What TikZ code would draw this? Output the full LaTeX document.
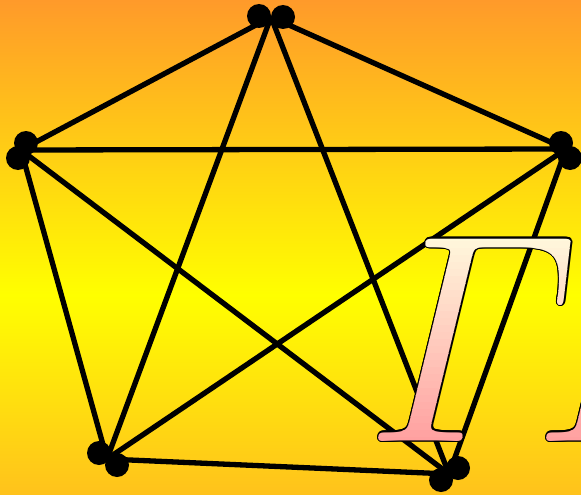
\documentclass[tikz,border=0pt]{standalone}
\usepackage{graphicx}
\usetikzlibrary{positioning}
\definecolor{SkyOrange}{HTML}{FF9A2A}
\definecolor{SkyYellow}{HTML}{FFFF00}
\definecolor{SkyLow}{HTML}{FFC21C}
\definecolor{GlyphTop}{HTML}{FFF8DC}
\definecolor{GlyphBottom}{HTML}{FFA0A0}
\newcommand{\bigGamma}{\scalebox{11.6}[11.94]{\char0}}

\begin{document}
\begin{tikzpicture}[x=1pt,y=-1pt,
  vertexdot/.style={circle,fill=black,inner sep=0pt,minimum size=24pt},
  graphedge/.style={draw=black,line width=5.3pt},
  bigglyph/.style={inner sep=0pt,anchor=base west,font=\fontsize{24.88}{25}\usefont{OML}{cmm}{m}{it}}
]
\useasboundingbox (0,0) rectangle (581,495);
% background
\shade[top color=SkyOrange,bottom color=SkyYellow] (0,0) rectangle (581,295);
\shade[top color=SkyYellow,bottom color=SkyLow] (0,294.5) rectangle (581,495);

% the five vertices
\coordinate (vt) at (271,17);
\coordinate (vl) at (21,150);
\coordinate (vr) at (566,149);
\coordinate (vbl) at (107,459);
\coordinate (vbr) at (449,474);

\foreach \a/\b in {vt/vl,vt/vr,vl/vr,vl/vbl,vr/vbr,vbl/vbr,vt/vbl,vt/vbr,vl/vbr,vr/vbl}
  \draw[graphedge] (\a) -- (\b);

\node[vertexdot] (vt-a) at (259,16) {};
\node[vertexdot] (vt-b) at (283,17) {};
\node[vertexdot] (vl-a) at (26,143) {};
\node[vertexdot] (vl-b) at (18,158) {};
\node[vertexdot] (vr-a) at (561,143) {};
\node[vertexdot] (vr-b) at (570,158) {};
\node[vertexdot] (vbl-a) at (99,453) {};
\node[vertexdot] (vbl-b) at (117,465) {};
\node[vertexdot] (vbr-a) at (441,480) {};
\node[vertexdot] (vbr-b) at (458,468) {};

% big letters: black rim, then shaded fill in thin strips
\foreach \gx [count=\g] in {365.5,533.5} {
  \foreach \ang in {0,30,...,330}
    \node[bigglyph,text=black] (rim\g-\ang) at ({\gx+1.3*cos(\ang)},{441+1.3*sin(\ang)}) {\bigGamma};
  \foreach \i in {0,...,29} {
    \pgfmathtruncatemacro\mix{round(100*\i/29)}
    \begin{scope}
      \clip (\gx-20,{234+7*\i}) rectangle (\gx+240,{234+7*\i+7.3});
      \node[bigglyph,text=GlyphBottom!\mix!GlyphTop] (fill\g-\i) at (\gx,441) {\bigGamma};
    \end{scope}
  }
}
\end{tikzpicture}
\end{document}
